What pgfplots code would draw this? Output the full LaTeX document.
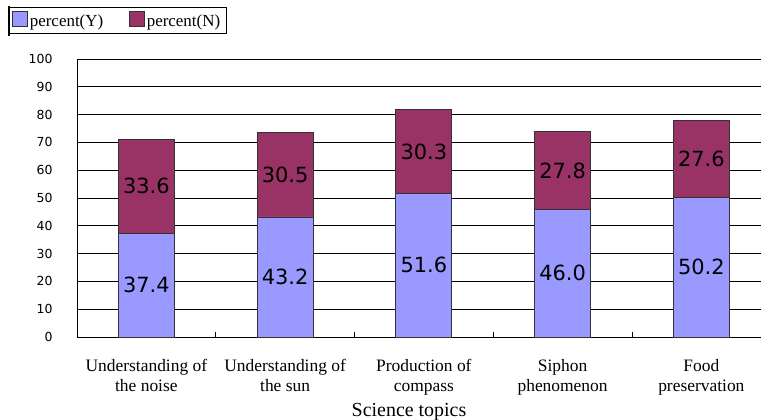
\documentclass[border=0pt]{standalone}
\usepackage{pgfplots}
\pgfplotsset{compat=1.18}
\usepackage{pgfplotstable}
\usepackage{fontspec}
\setmainfont{Liberation Serif}
\newfontfamily\numfont{DejaVu Sans}
\definecolor{yesblue}{HTML}{9999FF}
\definecolor{nored}{HTML}{993366}
\definecolor{edge}{HTML}{333333}

% x  value
\pgfplotstableread{
x y
0 37.4
1 43.2
2 51.6
3 46.0
4 50.2
}\percentY
\pgfplotstableread{
x y
0 33.6
1 30.5
2 30.3
3 27.8
4 27.6
}\percentN

\begin{document}
\begin{tikzpicture}
\path[use as bounding box] (-77bp,-83bp) rectangle (684bp,337bp);
\begin{axis}[
  scale only axis,
  width=684bp, height=278bp,
  ybar stacked,
  bar width=56bp,
  xmin=-0.5, xmax=4.43,
  ymin=0, ymax=100,
  axis x line*=bottom, axis y line*=left,
  axis line style={-, black, line width=0.8bp},
  xtick={0,1,2,3,4},
  xticklabels={Understanding of\\the noise, Understanding of\\the sun,
    Production of\\compass, Siphon\\phenomenon, Food\\preservation},
  xticklabel style={align=center, font=\fontsize{17.5}{20}\selectfont, yshift=-19bp},
  minor xtick={0.5,1.5,2.5,3.5},
  major tick length=0pt, minor tick length=5bp,
  tick align=inside,
  minor tick style={black, line width=0.8bp},
  ytick={0,10,...,90},
  extra y ticks={100},
  extra y tick style={grid style={gray!80, line width=0.8bp}},
  yticklabel style={font=\numfont\fontsize{12.5}{14}\selectfont, xshift=-21bp},
  /pgf/number format/assume math mode=true,
  ymajorgrids=true,
  major grid style={black, line width=0.7bp},
  xlabel={Science topics},
  xlabel style={font=\fontsize{20}{22}\selectfont, yshift=-1bp, xshift=-10bp},
  legend style={at={(-0.1009,1.187)}, anchor=north west, legend columns=2,
    font=\fontsize{17}{19}\selectfont, draw=black, line width=0.6bp,
    inner xsep=4bp, inner ysep=4bp,
    /tikz/every even column/.append style={column sep=24bp}},
  legend image code/.code={\draw[#1, line width=0.6bp] (6bp,-5.5bp) rectangle (21bp,9.5bp);},
  nodes near coords,
  every node near coord/.append style={anchor=center, black,
    font=\numfont\fontsize{21}{24}\selectfont,
    /pgf/number format/.cd, fixed, fixed zerofill, precision=1},
]
\addplot[fill=yesblue, draw=edge, line width=0.8bp] table[x=x, y=y] {\percentY};
\addplot[fill=nored, draw=edge, line width=0.8bp] table[x=x, y=y] {\percentN};
\legend{percent(Y), percent(N)}
\end{axis}
\draw[black, line width=2bp] (-68bp,331bp) -- (-68bp,301bp);
\end{tikzpicture}
\end{document}
